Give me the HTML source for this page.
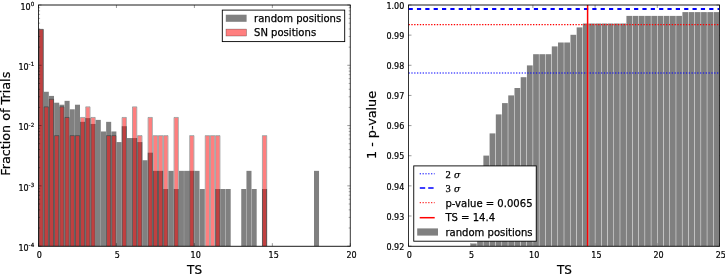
<!DOCTYPE html>
<html lang="en"><head><meta charset="utf-8"><title>TS distributions</title>
<style>html,body{margin:0;padding:0;background:#fff}svg{display:block}</style></head>
<body>
<svg width="725" height="275" viewBox="0 0 725 275">
<rect x="0" y="0" width="725" height="275" fill="#fff"/>
<g id="left-hist">
<rect x="38.58" y="29.22" width="5.04" height="216.93" fill="#808080"/>
<rect x="43.78" y="91.77" width="5.04" height="154.38" fill="#808080"/>
<rect x="48.97" y="95.91" width="5.04" height="150.24" fill="#808080"/>
<rect x="54.17" y="102.71" width="5.04" height="143.44" fill="#808080"/>
<rect x="59.37" y="104.72" width="5.04" height="141.43" fill="#808080"/>
<rect x="64.56" y="100.84" width="5.04" height="145.31" fill="#808080"/>
<rect x="69.76" y="109.29" width="5.04" height="136.86" fill="#808080"/>
<rect x="74.96" y="104.72" width="5.04" height="141.43" fill="#808080"/>
<rect x="80.15" y="121.84" width="5.04" height="124.31" fill="#808080"/>
<rect x="85.35" y="118.1" width="5.04" height="128.05" fill="#808080"/>
<rect x="90.55" y="123.94" width="5.04" height="122.21" fill="#808080"/>
<rect x="95.74" y="119.9" width="5.04" height="126.25" fill="#808080"/>
<rect x="100.94" y="131.47" width="5.04" height="114.68" fill="#808080"/>
<rect x="106.14" y="121.84" width="5.04" height="124.31" fill="#808080"/>
<rect x="111.33" y="131.47" width="5.04" height="114.68" fill="#808080"/>
<rect x="116.53" y="142.09" width="5.04" height="104.06" fill="#808080"/>
<rect x="121.73" y="126.22" width="5.04" height="119.93" fill="#808080"/>
<rect x="126.92" y="138.05" width="5.04" height="108.1" fill="#808080"/>
<rect x="132.12" y="138.05" width="5.04" height="108.1" fill="#808080"/>
<rect x="137.32" y="142.09" width="5.04" height="104.06" fill="#808080"/>
<rect x="142.51" y="160.24" width="5.04" height="85.91" fill="#808080"/>
<rect x="147.71" y="152.7" width="5.04" height="93.45" fill="#808080"/>
<rect x="152.91" y="170.85" width="5.04" height="75.3" fill="#808080"/>
<rect x="158.1" y="170.85" width="5.04" height="75.3" fill="#808080"/>
<rect x="163.3" y="189" width="5.04" height="57.15" fill="#808080"/>
<rect x="168.5" y="170.85" width="5.04" height="75.3" fill="#808080"/>
<rect x="173.69" y="189" width="5.04" height="57.15" fill="#808080"/>
<rect x="178.89" y="170.85" width="5.04" height="75.3" fill="#808080"/>
<rect x="184.09" y="170.85" width="5.04" height="75.3" fill="#808080"/>
<rect x="189.28" y="170.85" width="5.04" height="75.3" fill="#808080"/>
<rect x="194.48" y="170.85" width="5.04" height="75.3" fill="#808080"/>
<rect x="199.68" y="189" width="5.04" height="57.15" fill="#808080"/>
<rect x="215.27" y="189" width="5.04" height="57.15" fill="#808080"/>
<rect x="220.46" y="189" width="5.04" height="57.15" fill="#808080"/>
<rect x="225.66" y="189" width="5.04" height="57.15" fill="#808080"/>
<rect x="241.25" y="189" width="5.04" height="57.15" fill="#808080"/>
<rect x="246.45" y="170.85" width="5.04" height="75.3" fill="#808080"/>
<rect x="251.64" y="189" width="5.04" height="57.15" fill="#808080"/>
<rect x="262.04" y="189" width="5.04" height="57.15" fill="#808080"/>
<rect x="314" y="170.85" width="5.04" height="75.3" fill="#808080"/>
<rect x="39.37" y="29.73" width="3.45" height="216.42" fill="#ff0000" fill-opacity="0.5"/>
<path d="M38.95 246.15V29.3H43.25V246.15" fill="none" stroke="#000" stroke-opacity="0.38" stroke-width="0.85"/>
<rect x="44.57" y="107.26" width="3.45" height="138.89" fill="#ff0000" fill-opacity="0.5"/>
<path d="M44.15 246.15V106.84H48.45V246.15" fill="none" stroke="#000" stroke-opacity="0.38" stroke-width="0.85"/>
<rect x="49.77" y="99.73" width="3.45" height="146.42" fill="#ff0000" fill-opacity="0.5"/>
<path d="M49.34 246.15V99.3H53.64V246.15" fill="none" stroke="#000" stroke-opacity="0.38" stroke-width="0.85"/>
<rect x="54.96" y="136.03" width="3.45" height="110.13" fill="#ff0000" fill-opacity="0.5"/>
<path d="M54.54 246.15V135.6H58.84V246.15" fill="none" stroke="#000" stroke-opacity="0.38" stroke-width="0.85"/>
<rect x="60.16" y="107.26" width="3.45" height="138.89" fill="#ff0000" fill-opacity="0.5"/>
<path d="M59.74 246.15V106.84H64.04V246.15" fill="none" stroke="#000" stroke-opacity="0.38" stroke-width="0.85"/>
<rect x="65.36" y="117.88" width="3.45" height="128.27" fill="#ff0000" fill-opacity="0.5"/>
<path d="M64.93 246.15V117.45H69.23V246.15" fill="none" stroke="#000" stroke-opacity="0.38" stroke-width="0.85"/>
<rect x="70.55" y="136.03" width="3.45" height="110.13" fill="#ff0000" fill-opacity="0.5"/>
<path d="M70.13 246.15V135.6H74.43V246.15" fill="none" stroke="#000" stroke-opacity="0.38" stroke-width="0.85"/>
<rect x="75.75" y="136.03" width="3.45" height="110.13" fill="#ff0000" fill-opacity="0.5"/>
<path d="M75.33 246.15V135.6H79.62V246.15" fill="none" stroke="#000" stroke-opacity="0.38" stroke-width="0.85"/>
<rect x="80.95" y="117.88" width="3.45" height="128.27" fill="#ff0000" fill-opacity="0.5"/>
<path d="M80.52 246.15V117.45H84.82V246.15" fill="none" stroke="#000" stroke-opacity="0.38" stroke-width="0.85"/>
<rect x="86.14" y="107.26" width="3.45" height="138.89" fill="#ff0000" fill-opacity="0.5"/>
<path d="M85.72 246.15V106.84H90.02V246.15" fill="none" stroke="#000" stroke-opacity="0.38" stroke-width="0.85"/>
<rect x="91.34" y="117.88" width="3.45" height="128.27" fill="#ff0000" fill-opacity="0.5"/>
<path d="M90.92 246.15V117.45H95.21V246.15" fill="none" stroke="#000" stroke-opacity="0.38" stroke-width="0.85"/>
<rect x="106.93" y="136.03" width="3.45" height="110.13" fill="#ff0000" fill-opacity="0.5"/>
<path d="M106.51 246.15V135.6H110.8V246.15" fill="none" stroke="#000" stroke-opacity="0.38" stroke-width="0.85"/>
<rect x="112.13" y="136.03" width="3.45" height="110.13" fill="#ff0000" fill-opacity="0.5"/>
<path d="M111.7 246.15V135.6H116V246.15" fill="none" stroke="#000" stroke-opacity="0.38" stroke-width="0.85"/>
<rect x="122.52" y="117.88" width="3.45" height="128.27" fill="#ff0000" fill-opacity="0.5"/>
<path d="M122.1 246.15V117.45H126.39V246.15" fill="none" stroke="#000" stroke-opacity="0.38" stroke-width="0.85"/>
<rect x="132.91" y="107.26" width="3.45" height="138.89" fill="#ff0000" fill-opacity="0.5"/>
<path d="M132.49 246.15V106.84H136.79V246.15" fill="none" stroke="#000" stroke-opacity="0.38" stroke-width="0.85"/>
<rect x="138.11" y="136.03" width="3.45" height="110.13" fill="#ff0000" fill-opacity="0.5"/>
<path d="M137.69 246.15V135.6H141.99V246.15" fill="none" stroke="#000" stroke-opacity="0.38" stroke-width="0.85"/>
<rect x="148.5" y="117.88" width="3.45" height="128.27" fill="#ff0000" fill-opacity="0.5"/>
<path d="M148.08 246.15V117.45H152.38V246.15" fill="none" stroke="#000" stroke-opacity="0.38" stroke-width="0.85"/>
<rect x="153.7" y="136.03" width="3.45" height="110.13" fill="#ff0000" fill-opacity="0.5"/>
<path d="M153.28 246.15V135.6H157.58V246.15" fill="none" stroke="#000" stroke-opacity="0.38" stroke-width="0.85"/>
<rect x="158.9" y="136.03" width="3.45" height="110.13" fill="#ff0000" fill-opacity="0.5"/>
<path d="M158.47 246.15V135.6H162.77V246.15" fill="none" stroke="#000" stroke-opacity="0.38" stroke-width="0.85"/>
<rect x="164.09" y="136.03" width="3.45" height="110.13" fill="#ff0000" fill-opacity="0.5"/>
<path d="M163.67 246.15V135.6H167.97V246.15" fill="none" stroke="#000" stroke-opacity="0.38" stroke-width="0.85"/>
<rect x="174.49" y="117.88" width="3.45" height="128.27" fill="#ff0000" fill-opacity="0.5"/>
<path d="M174.06 246.15V117.45H178.36V246.15" fill="none" stroke="#000" stroke-opacity="0.38" stroke-width="0.85"/>
<rect x="190.08" y="136.03" width="3.45" height="110.13" fill="#ff0000" fill-opacity="0.5"/>
<path d="M189.65 246.15V135.6H193.95V246.15" fill="none" stroke="#000" stroke-opacity="0.38" stroke-width="0.85"/>
<rect x="205.67" y="136.03" width="3.45" height="110.13" fill="#ff0000" fill-opacity="0.5"/>
<path d="M205.24 246.15V135.6H209.54V246.15" fill="none" stroke="#000" stroke-opacity="0.38" stroke-width="0.85"/>
<rect x="210.86" y="136.03" width="3.45" height="110.13" fill="#ff0000" fill-opacity="0.5"/>
<path d="M210.44 246.15V135.6H214.74V246.15" fill="none" stroke="#000" stroke-opacity="0.38" stroke-width="0.85"/>
<rect x="216.06" y="136.03" width="3.45" height="110.13" fill="#ff0000" fill-opacity="0.5"/>
<path d="M215.64 246.15V135.6H219.94V246.15" fill="none" stroke="#000" stroke-opacity="0.38" stroke-width="0.85"/>
<rect x="262.83" y="136.03" width="3.45" height="110.13" fill="#ff0000" fill-opacity="0.5"/>
<path d="M262.41 246.15V135.6H266.71V246.15" fill="none" stroke="#000" stroke-opacity="0.38" stroke-width="0.85"/>
</g>
<g font-family="'DejaVu Sans','Liberation Sans',sans-serif" fill="#000" stroke="#000" stroke-width="0.2">
<path d="M38.5 246.15v-3 M38.5 5v3" stroke="#000" stroke-width="0.4"/>
<text x="39.4" y="257.6" font-size="8" text-anchor="middle">0</text>
<path d="M116.45 246.15v-3 M116.45 5v3" stroke="#000" stroke-width="0.4"/>
<text x="117.35" y="257.6" font-size="8" text-anchor="middle">5</text>
<path d="M194.4 246.15v-3 M194.4 5v3" stroke="#000" stroke-width="0.4"/>
<text x="195.7" y="257.6" font-size="8" text-anchor="middle">10</text>
<path d="M272.35 246.15v-3 M272.35 5v3" stroke="#000" stroke-width="0.4"/>
<text x="273.65" y="257.6" font-size="8" text-anchor="middle">15</text>
<path d="M350.3 246.15v-3 M350.3 5v3" stroke="#000" stroke-width="0.4"/>
<text x="351.6" y="257.6" font-size="8" text-anchor="middle">20</text>
<path d="M408.5 246.15v-3 M408.5 5v3" stroke="#000" stroke-width="0.4"/>
<text x="409.4" y="257.6" font-size="8" text-anchor="middle">0</text>
<path d="M470.7 246.15v-3 M470.7 5v3" stroke="#000" stroke-width="0.4"/>
<text x="471.6" y="257.6" font-size="8" text-anchor="middle">5</text>
<path d="M532.9 246.15v-3 M532.9 5v3" stroke="#000" stroke-width="0.4"/>
<text x="534.2" y="257.6" font-size="8" text-anchor="middle">10</text>
<path d="M595.1 246.15v-3 M595.1 5v3" stroke="#000" stroke-width="0.4"/>
<text x="596.4" y="257.6" font-size="8" text-anchor="middle">15</text>
<path d="M657.3 246.15v-3 M657.3 5v3" stroke="#000" stroke-width="0.4"/>
<text x="658.6" y="257.6" font-size="8" text-anchor="middle">20</text>
<path d="M719.5 246.15v-3 M719.5 5v3" stroke="#000" stroke-width="0.4"/>
<text x="720.8" y="257.6" font-size="8" text-anchor="middle">25</text>
<text x="194.6" y="274.2" font-size="12" text-anchor="middle">TS</text>
<text x="564.5" y="274.2" font-size="12" text-anchor="middle">TS</text>
<text transform="translate(9.7 123.7) rotate(-90)" font-size="12" text-anchor="middle" textLength="104" lengthAdjust="spacingAndGlyphs">Fraction of Trials</text>
<text transform="translate(376.4 125) rotate(-90)" font-size="12" text-anchor="middle" textLength="68" lengthAdjust="spacingAndGlyphs">1 - p-value</text>
<path d="M408.5 5h3 M719.5 5h-3" stroke="#000" stroke-width="0.4"/>
<text x="404.3" y="8.7" font-size="8" text-anchor="end">1.00</text>
<path d="M408.5 35.14h3 M719.5 35.14h-3" stroke="#000" stroke-width="0.4"/>
<text x="404.3" y="38.84" font-size="8" text-anchor="end">0.99</text>
<path d="M408.5 65.29h3 M719.5 65.29h-3" stroke="#000" stroke-width="0.4"/>
<text x="404.3" y="68.99" font-size="8" text-anchor="end">0.98</text>
<path d="M408.5 95.43h3 M719.5 95.43h-3" stroke="#000" stroke-width="0.4"/>
<text x="404.3" y="99.13" font-size="8" text-anchor="end">0.97</text>
<path d="M408.5 125.58h3 M719.5 125.58h-3" stroke="#000" stroke-width="0.4"/>
<text x="404.3" y="129.28" font-size="8" text-anchor="end">0.96</text>
<path d="M408.5 155.72h3 M719.5 155.72h-3" stroke="#000" stroke-width="0.4"/>
<text x="404.3" y="159.42" font-size="8" text-anchor="end">0.95</text>
<path d="M408.5 185.86h3 M719.5 185.86h-3" stroke="#000" stroke-width="0.4"/>
<text x="404.3" y="189.56" font-size="8" text-anchor="end">0.94</text>
<path d="M408.5 216.01h3 M719.5 216.01h-3" stroke="#000" stroke-width="0.4"/>
<text x="404.3" y="219.71" font-size="8" text-anchor="end">0.93</text>
<path d="M408.5 246.15h3 M719.5 246.15h-3" stroke="#000" stroke-width="0.4"/>
<text x="404.3" y="249.85" font-size="8" text-anchor="end">0.92</text>
</g>
<g font-family="'DejaVu Sans','Liberation Sans',sans-serif" fill="#000" stroke="#000" stroke-width="0.2">
<path d="M38.5 5h3 M350.3 5h-3" stroke="#000" stroke-width="0.4"/>
<path d="M38.5 47.14h1.6 M350.3 47.14h-1.6" stroke="#000" stroke-width="0.35"/>
<path d="M38.5 36.52h1.6 M350.3 36.52h-1.6" stroke="#000" stroke-width="0.35"/>
<path d="M38.5 28.99h1.6 M350.3 28.99h-1.6" stroke="#000" stroke-width="0.35"/>
<path d="M38.5 23.15h1.6 M350.3 23.15h-1.6" stroke="#000" stroke-width="0.35"/>
<path d="M38.5 18.37h1.6 M350.3 18.37h-1.6" stroke="#000" stroke-width="0.35"/>
<path d="M38.5 14.34h1.6 M350.3 14.34h-1.6" stroke="#000" stroke-width="0.35"/>
<path d="M38.5 10.84h1.6 M350.3 10.84h-1.6" stroke="#000" stroke-width="0.35"/>
<path d="M38.5 7.76h1.6 M350.3 7.76h-1.6" stroke="#000" stroke-width="0.35"/>
<text x="34.2" y="9.8" font-size="8" text-anchor="end">10<tspan dy="-3.7" font-size="5.6">0</tspan></text>
<path d="M38.5 65.29h3 M350.3 65.29h-3" stroke="#000" stroke-width="0.4"/>
<path d="M38.5 107.43h1.6 M350.3 107.43h-1.6" stroke="#000" stroke-width="0.35"/>
<path d="M38.5 96.81h1.6 M350.3 96.81h-1.6" stroke="#000" stroke-width="0.35"/>
<path d="M38.5 89.28h1.6 M350.3 89.28h-1.6" stroke="#000" stroke-width="0.35"/>
<path d="M38.5 83.44h1.6 M350.3 83.44h-1.6" stroke="#000" stroke-width="0.35"/>
<path d="M38.5 78.66h1.6 M350.3 78.66h-1.6" stroke="#000" stroke-width="0.35"/>
<path d="M38.5 74.63h1.6 M350.3 74.63h-1.6" stroke="#000" stroke-width="0.35"/>
<path d="M38.5 71.13h1.6 M350.3 71.13h-1.6" stroke="#000" stroke-width="0.35"/>
<path d="M38.5 68.05h1.6 M350.3 68.05h-1.6" stroke="#000" stroke-width="0.35"/>
<text x="34.2" y="70.09" font-size="8" text-anchor="end">10<tspan dy="-3.7" font-size="5.6">-1</tspan></text>
<path d="M38.5 125.58h3 M350.3 125.58h-3" stroke="#000" stroke-width="0.4"/>
<path d="M38.5 167.71h1.6 M350.3 167.71h-1.6" stroke="#000" stroke-width="0.35"/>
<path d="M38.5 157.1h1.6 M350.3 157.1h-1.6" stroke="#000" stroke-width="0.35"/>
<path d="M38.5 149.57h1.6 M350.3 149.57h-1.6" stroke="#000" stroke-width="0.35"/>
<path d="M38.5 143.72h1.6 M350.3 143.72h-1.6" stroke="#000" stroke-width="0.35"/>
<path d="M38.5 138.95h1.6 M350.3 138.95h-1.6" stroke="#000" stroke-width="0.35"/>
<path d="M38.5 134.91h1.6 M350.3 134.91h-1.6" stroke="#000" stroke-width="0.35"/>
<path d="M38.5 131.42h1.6 M350.3 131.42h-1.6" stroke="#000" stroke-width="0.35"/>
<path d="M38.5 128.33h1.6 M350.3 128.33h-1.6" stroke="#000" stroke-width="0.35"/>
<text x="34.2" y="130.38" font-size="8" text-anchor="end">10<tspan dy="-3.7" font-size="5.6">-2</tspan></text>
<path d="M38.5 185.86h3 M350.3 185.86h-3" stroke="#000" stroke-width="0.4"/>
<path d="M38.5 228h1.6 M350.3 228h-1.6" stroke="#000" stroke-width="0.35"/>
<path d="M38.5 217.39h1.6 M350.3 217.39h-1.6" stroke="#000" stroke-width="0.35"/>
<path d="M38.5 209.85h1.6 M350.3 209.85h-1.6" stroke="#000" stroke-width="0.35"/>
<path d="M38.5 204.01h1.6 M350.3 204.01h-1.6" stroke="#000" stroke-width="0.35"/>
<path d="M38.5 199.24h1.6 M350.3 199.24h-1.6" stroke="#000" stroke-width="0.35"/>
<path d="M38.5 195.2h1.6 M350.3 195.2h-1.6" stroke="#000" stroke-width="0.35"/>
<path d="M38.5 191.7h1.6 M350.3 191.7h-1.6" stroke="#000" stroke-width="0.35"/>
<path d="M38.5 188.62h1.6 M350.3 188.62h-1.6" stroke="#000" stroke-width="0.35"/>
<text x="34.2" y="190.66" font-size="8" text-anchor="end">10<tspan dy="-3.7" font-size="5.6">-3</tspan></text>
<path d="M38.5 246.15h3 M350.3 246.15h-3" stroke="#000" stroke-width="0.4"/>
<text x="34.2" y="250.95" font-size="8" text-anchor="end">10<tspan dy="-3.7" font-size="5.6">-4</tspan></text>
</g>
<g id="right-hist">
<rect x="470.93" y="243.5" width="5.76" height="2.65" fill="#808080"/>
<rect x="477.15" y="200" width="5.76" height="46.15" fill="#808080"/>
<rect x="483.37" y="155.6" width="5.76" height="90.55" fill="#808080"/>
<rect x="489.59" y="133.4" width="5.76" height="112.75" fill="#808080"/>
<rect x="495.81" y="114.4" width="5.76" height="131.75" fill="#808080"/>
<rect x="502.03" y="103.1" width="5.76" height="143.05" fill="#808080"/>
<rect x="508.25" y="95.4" width="5.76" height="150.75" fill="#808080"/>
<rect x="514.47" y="88" width="5.76" height="158.15" fill="#808080"/>
<rect x="520.69" y="77.2" width="5.76" height="168.95" fill="#808080"/>
<rect x="526.91" y="65.4" width="5.76" height="180.75" fill="#808080"/>
<rect x="533.13" y="54.2" width="5.76" height="191.95" fill="#808080"/>
<rect x="539.35" y="54.2" width="5.76" height="191.95" fill="#808080"/>
<rect x="545.57" y="54.2" width="5.76" height="191.95" fill="#808080"/>
<rect x="551.79" y="46.4" width="5.76" height="199.75" fill="#808080"/>
<rect x="558.01" y="42.5" width="5.76" height="203.65" fill="#808080"/>
<rect x="564.23" y="42.5" width="5.76" height="203.65" fill="#808080"/>
<rect x="570.45" y="34.8" width="5.76" height="211.35" fill="#808080"/>
<rect x="576.67" y="27.4" width="5.76" height="218.75" fill="#808080"/>
<rect x="582.89" y="23.5" width="5.76" height="222.65" fill="#808080"/>
<rect x="589.11" y="23.5" width="5.76" height="222.65" fill="#808080"/>
<rect x="595.33" y="23.5" width="5.76" height="222.65" fill="#808080"/>
<rect x="601.55" y="23.5" width="5.76" height="222.65" fill="#808080"/>
<rect x="607.77" y="23.5" width="5.76" height="222.65" fill="#808080"/>
<rect x="613.99" y="23.5" width="5.76" height="222.65" fill="#808080"/>
<rect x="620.21" y="23.5" width="5.76" height="222.65" fill="#808080"/>
<rect x="626.43" y="15.9" width="5.76" height="230.25" fill="#808080"/>
<rect x="632.65" y="15.9" width="5.76" height="230.25" fill="#808080"/>
<rect x="638.87" y="15.9" width="5.76" height="230.25" fill="#808080"/>
<rect x="645.09" y="15.9" width="5.76" height="230.25" fill="#808080"/>
<rect x="651.31" y="15.9" width="5.76" height="230.25" fill="#808080"/>
<rect x="657.53" y="15.9" width="5.76" height="230.25" fill="#808080"/>
<rect x="663.75" y="15.9" width="5.76" height="230.25" fill="#808080"/>
<rect x="669.97" y="15.9" width="5.76" height="230.25" fill="#808080"/>
<rect x="676.19" y="15.9" width="5.76" height="230.25" fill="#808080"/>
<rect x="682.41" y="12.1" width="5.76" height="234.05" fill="#808080"/>
<rect x="688.63" y="12.1" width="5.76" height="234.05" fill="#808080"/>
<rect x="694.85" y="12.1" width="5.76" height="234.05" fill="#808080"/>
<rect x="701.07" y="12.1" width="5.76" height="234.05" fill="#808080"/>
<rect x="707.29" y="12.1" width="5.76" height="234.05" fill="#808080"/>
<rect x="713.51" y="12.1" width="5.76" height="234.05" fill="#808080"/>
</g>
<path d="M408.5 72.98H719.5" stroke="#0000ff" stroke-width="1.15" stroke-dasharray="1.35 1.48" fill="none"/>
<path d="M408.5 8.95H719.5" stroke="#0000ff" stroke-width="2" stroke-dasharray="4.2 4.15" stroke-dashoffset="-0.1" fill="none"/>
<path d="M408.5 24.64H719.5" stroke="#ff0000" stroke-width="1.15" stroke-dasharray="1.35 1.48" fill="none"/>
<path d="M587.6 5V246.15" stroke="#ff0000" stroke-width="1.5" fill="none"/>
<path d="M38.1 5H350.7" stroke="#000" stroke-width="0.9" fill="none"/>
<path d="M38.1 246.3H350.7" stroke="#000" stroke-width="0.9" fill="none"/>
<path d="M38.5 5V246.15 M350.3 5V246.15" stroke="#000" stroke-width="0.8" fill="none"/>
<path d="M408.1 5H719.9" stroke="#000" stroke-width="0.9" fill="none"/>
<path d="M408.1 246.3H719.9" stroke="#000" stroke-width="0.9" fill="none"/>
<path d="M408.5 5V246.15 M719.5 5V246.15" stroke="#000" stroke-width="0.8" fill="none"/>
<g font-family="'DejaVu Sans','Liberation Sans',sans-serif" font-size="10.05" fill="#000" stroke="#000" stroke-width="0.25">
<rect x="222.3" y="10.1" width="122.4" height="31.5" fill="#fff" stroke="#000" stroke-width="0.9"/>
<rect x="225.8" y="14.7" width="20.8" height="7.1" fill="#808080" stroke="none"/>
<rect x="226" y="29.1" width="20.5" height="6.9" fill="#ff0000" fill-opacity="0.5" stroke="#000" stroke-opacity="0.5" stroke-width="0.5"/>
<text x="254" y="21.8">random positions</text>
<text x="254" y="36.4">SN positions</text>
<rect x="413.75" y="165.9" width="122.5" height="75.3" fill="#fff" stroke="#000" stroke-width="0.9"/>
<path d="M419.7 173.8H434.7" stroke="#0000ff" stroke-width="1" stroke-dasharray="1.3 1.53"/>
<path d="M419.8 188.1H434.7" stroke="#0000ff" stroke-width="1.5" stroke-dasharray="5.4 3"/>
<path d="M419.7 202.7H434.7" stroke="#ff0000" stroke-width="1" stroke-dasharray="1.3 1.53"/>
<path d="M419.7 217.7H434.7" stroke="#ff0000" stroke-width="1.5"/>
<rect x="417.2" y="228.4" width="20.8" height="7.2" fill="#808080" stroke="none"/>
<text x="445.6" y="177.7" font-family="'Liberation Serif','DejaVu Serif',serif" font-size="10.5" stroke="#000" stroke-width="0.25">2 <tspan font-style="italic" dx="0.6" font-family="'DejaVu Serif',serif" font-size="9.2">σ</tspan></text>
<text x="445.6" y="191.9" font-family="'Liberation Serif','DejaVu Serif',serif" font-size="10.5" stroke="#000" stroke-width="0.25">3 <tspan font-style="italic" dx="0.6" font-family="'DejaVu Serif',serif" font-size="9.2">σ</tspan></text>
<text x="445.4" y="207.2">p-value = 0.0065</text>
<text x="445.4" y="221.4">TS = 14.4</text>
<text x="445.4" y="235.6">random positions</text>
</g>
</svg>
</body></html>
